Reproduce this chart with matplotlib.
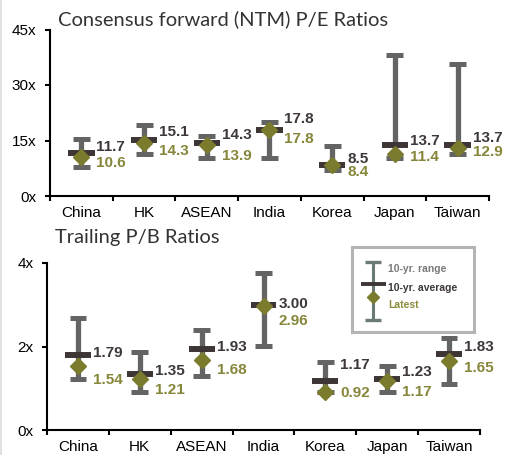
import matplotlib
matplotlib.use("Agg")
import matplotlib.pyplot as plt
from matplotlib.lines import Line2D

categories = ["China", "HK", "ASEAN", "India", "Korea", "Japan", "Taiwan"]

# Forward P/E (x)
pe_high = [15.4, 19.2, 16.2, 20.0, 13.5, 38.2, 35.7]
pe_low = [7.8, 11.4, 10.3, 10.3, 7.0, 10.3, 11.4]
pe_avg = [11.7, 15.1, 14.3, 17.8, 8.5, 13.7, 13.7]
pe_latest = [10.6, 14.3, 13.9, 17.8, 8.4, 11.4, 12.9]
pe_ticks = [0, 15, 30, 45]

# Trailing P/B (x)
pb_high = [2.68, 1.87, 2.40, 3.76, 1.63, 1.53, 2.20]
pb_low = [1.22, 0.91, 1.29, 2.01, 0.90, 0.91, 1.10]
pb_avg = [1.79, 1.35, 1.93, 3.00, 1.17, 1.23, 1.83]
pb_latest = [1.54, 1.21, 1.68, 2.96, 0.92, 1.17, 1.65]
pb_ticks = [0, 2, 4]

# label nudges in pixels (avg label up, latest label down)
pe_avg_dy = [6, 8, 8, 11, 6, 4, 7]
pe_lat_dy = [6, 8, 11, 9, 7, 3, 4]
pb_avg_dy = [2, 3, 2, 1, 16, 7, 7]
pb_lat_dy = [14, 11, 10, 15, 1, 11, 7]

W, H = 506, 455
RANGE_C = "#646464"
AVG_C = "#3e3535"
LAT_C = "#7b7b2e"
LAT_TXT = "#86863a"
AVG_TXT = "#3e3838"

fig = plt.figure(figsize=(W / 100, H / 100), dpi=100)
fig.patch.set_facecolor("white")


def px_axes(left, top, right, bottom):
    return fig.add_axes([left / W, (H - bottom) / H, (right - left) / W, (bottom - top) / H])


def draw_panel(ax, high, low, avg, latest, ticks, fmt, avg_dy, lat_dy):
    x = list(range(len(categories)))
    ax.vlines(x, low, high, color=RANGE_C, lw=3.8, zorder=2)
    ax.hlines(high, [i - 0.135 for i in x], [i + 0.135 for i in x], color=RANGE_C, lw=3.6, zorder=2)
    ax.hlines(low, [i - 0.135 for i in x], [i + 0.135 for i in x], color=RANGE_C, lw=3.6, zorder=2)
    ax.hlines(avg, [i - 0.21 for i in x], [i + 0.21 for i in x], color=AVG_C, lw=4.3, zorder=3)
    ax.plot(x, latest, "D", color=LAT_C, ms=7.8, mec=LAT_C, zorder=4, clip_on=False)
    for i in x:
        ax.annotate(fmt.format(avg[i]), (i, avg[i]), xytext=(15, avg_dy[i]),
                    textcoords="offset pixels", ha="left", va="center",
                    fontsize=11, fontweight="bold", color=AVG_TXT,
                    family="Liberation Sans", zorder=5, annotation_clip=False)
        ax.annotate(fmt.format(latest[i]), (i, latest[i]), xytext=(15, -lat_dy[i]),
                    textcoords="offset pixels", ha="left", va="center",
                    fontsize=11, fontweight="bold", color=LAT_TXT,
                    family="Liberation Sans", zorder=5, annotation_clip=False)
    ax.set_xlim(-0.5, len(categories) - 0.5)
    ax.set_ylim(ticks[0], ticks[-1])
    ax.set_yticks(ticks)
    ax.set_yticklabels([f"{t}x" for t in ticks], fontsize=11, family="Liberation Sans")
    ax.set_xticks(x)
    ax.set_xticklabels(categories, fontsize=11, family="Liberation Sans")
    ax.set_xticks([i - 0.5 for i in range(len(categories) + 1)], minor=True)
    ax.tick_params(axis="x", which="major", length=0, pad=7.5)
    ax.tick_params(axis="x", which="minor", length=3.8, width=1.5, direction="out")
    ax.tick_params(axis="y", length=3.8, width=1.5, direction="out", pad=6)
    for s in ("top", "right"):
        ax.spines[s].set_visible(False)
    for s in ("left", "bottom"):
        ax.spines[s].set_linewidth(1.5)
    ax.patch.set_alpha(0)


ax1 = px_axes(50, 29.5, 489, 196)
draw_panel(ax1, pe_high, pe_low, pe_avg, pe_latest, pe_ticks, "{:.1f}", pe_avg_dy, pe_lat_dy)

ax2 = px_axes(47, 263, 480, 430)
draw_panel(ax2, pb_high, pb_low, pb_avg, pb_latest, pb_ticks, "{:.2f}", pb_avg_dy, pb_lat_dy)

fig.text(58 / W, 1 - 25.5 / H, "Consensus forward (NTM) P/E Ratios", fontsize=14.5,
         family="Lato", color="#333333", ha="left", va="baseline")
fig.text(55 / W, 1 - 243 / H, "Trailing P/B Ratios", fontsize=14.5,
         family="Lato", color="#333333", ha="left", va="baseline")

# key box
lg = px_axes(352, 247, 474, 332)
lg.set_xlim(0, 122)
lg.set_ylim(85, 0)
lg.set_xticks([])
lg.set_yticks([])
for s in lg.spines.values():
    s.set_edgecolor("#b4b4b4")
    s.set_linewidth(2.2)
KEY_C = "#6c7a74"
lg.plot([21, 21], [15, 73], color=KEY_C, lw=2.2, solid_capstyle="butt")
lg.plot([13, 29], [15, 15], color=KEY_C, lw=2.4, solid_capstyle="butt")
lg.plot([13, 29], [73, 73], color=KEY_C, lw=2.4, solid_capstyle="butt")
lg.plot([9, 34], [37, 37], color=AVG_C, lw=2.8, solid_capstyle="butt")
lg.plot([21], [50], "D", color=LAT_C, ms=6)
lg.text(36, 22, "10-yr. range", fontsize=7.5, fontweight="bold", color="#7a7a7a",
        family="Liberation Sans", va="center")
lg.text(36, 41, "10-yr. average", fontsize=7.5, fontweight="bold", color=AVG_TXT,
        family="Liberation Sans", va="center")
lg.text(36, 58, "Latest", fontsize=7.5, fontweight="bold", color="#8a8a3a",
        family="Liberation Sans", va="center")

# faint page edge on the left
fig.add_artist(Line2D([1.5 / W, 1.5 / W], [0, 1], transform=fig.transFigure,
                      color="#dcdcdc", lw=1.2))

fig.savefig("out.png", dpi=100, facecolor="white")
